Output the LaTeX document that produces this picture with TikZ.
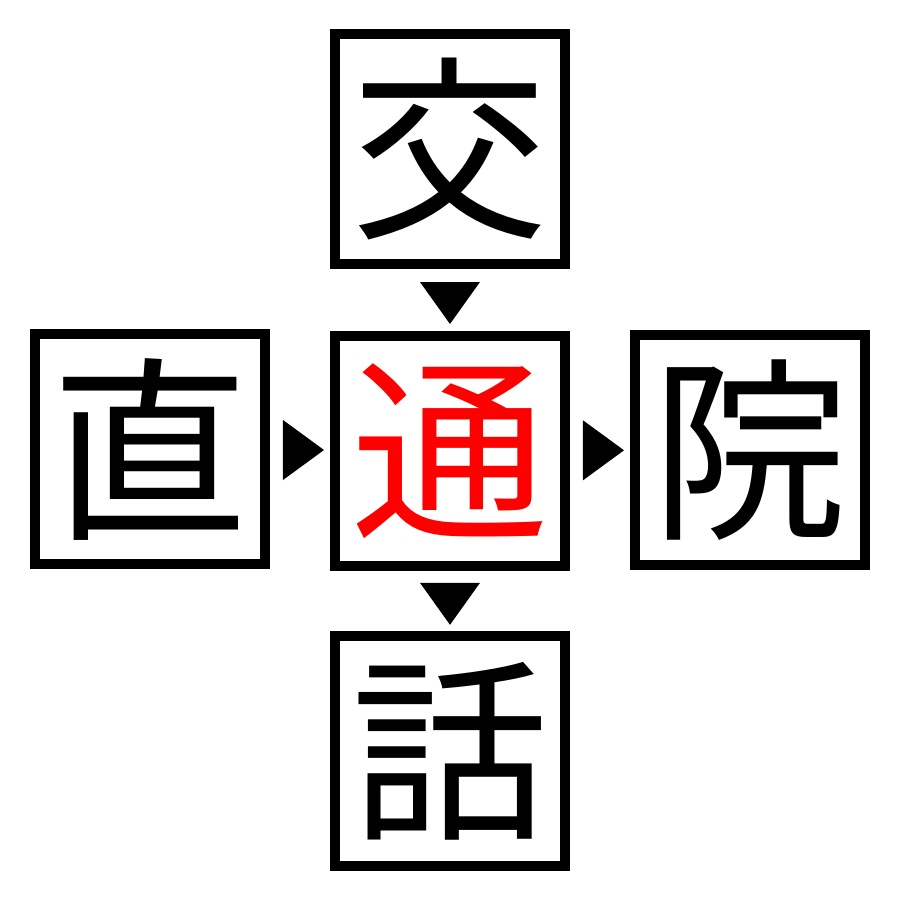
\documentclass[tikz,border=0pt]{standalone}
\usepackage{fontspec}
\newfontfamily\jp{Noto Sans CJK JP}
\usetikzlibrary{matrix}
\tikzset{
  kanji/.style={draw,line width=0.1cm,minimum size=2.3cm,inner sep=0pt,font=\jp\fontsize{56}{56}\selectfont},
  tridown/.pic={\fill (-0.3,0.18) -- (0.3,0.18) -- (0,-0.24) -- cycle;},
  triright/.pic={\fill (-0.17,0.3) -- (-0.17,-0.3) -- (0.24,0) -- cycle;}
}

\begin{document}
\begin{tikzpicture}[ampersand replacement=\&]
\useasboundingbox (-4.5,-4.5) rectangle (4.5,4.5);
\matrix (m) [matrix of nodes,row sep=0.6cm,column sep=0.6cm,nodes={kanji}]
{          \& 交 \&    \\
  直       \& |[text=red]| 通 \& 院 \\
           \& 話 \&    \\
} ;
\path

(m-1-2)
--
coordinate (a1)
(m-2-2)

(m-2-1)
--
coordinate (a2)
(m-2-2)

(m-2-2)
--
coordinate (a3)
(m-2-3)

(m-2-2)
--
coordinate (a4)
(m-3-2)

;

\path (a1) pic {tridown} (a4) pic {tridown}
      (a2) pic {triright} (a3) pic {triright};
\end{tikzpicture}
\end{document}
